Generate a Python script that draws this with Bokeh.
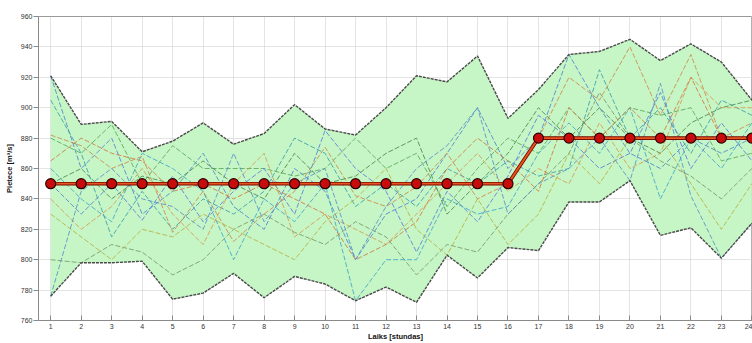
from bokeh.plotting import figure
from bokeh.models import Range1d, FixedTicker
from bokeh.embed import file_html
from bokeh.resources import INLINE

hours = list(range(1, 25))
upper = [921, 889, 891, 871, 878, 890, 876, 883, 902, 886, 882, 900,
         921, 917, 934, 893, 912, 935, 937, 945, 931, 942, 930, 905]
lower = [776, 798, 798, 799, 774, 778, 791, 775, 789, 784, 773, 782,
         772, 803, 788, 808, 806, 838, 838, 852, 816, 821, 801, 824]
planned = [850] * 16 + [880] * 8

s1 = [921, 860, 880, 830, 845, 870, 835, 820, 860, 845, 800, 830, 840, 870, 900, 860, 880, 935, 900, 870, 860, 880, 870, 880]
s2 = [905, 870, 815, 845, 820, 840, 830, 845, 880, 870, 835, 850, 835, 860, 850, 865, 855, 860, 925, 880, 900, 870, 905, 895]
s3 = [882, 875, 860, 868, 818, 845, 812, 830, 845, 874, 842, 835, 848, 870, 840, 850, 880, 920, 905, 940, 895, 935, 880, 890]
s4 = [880, 870, 889, 850, 875, 860, 860, 860, 855, 860, 880, 860, 870, 835, 860, 880, 870, 900, 880, 900, 895, 900, 865, 870]
s5 = [850, 830, 850, 826, 855, 825, 845, 860, 830, 885, 860, 845, 805, 845, 825, 855, 895, 880, 860, 870, 910, 860, 890, 865]
s6 = [840, 820, 835, 860, 830, 810, 850, 870, 815, 830, 820, 810, 830, 850, 870, 845, 860, 850, 890, 860, 870, 920, 900, 900]
s7 = [800, 798, 810, 805, 790, 800, 820, 830, 818, 810, 825, 815, 790, 810, 805, 830, 850, 870, 910, 880, 865, 855, 840, 860]
s8 = [860, 840, 825, 870, 860, 845, 800, 840, 825, 850, 773, 800, 800, 840, 830, 835, 870, 890, 870, 900, 840, 880, 860, 890]
s9 = [830, 815, 800, 820, 815, 830, 820, 810, 800, 825, 840, 860, 820, 803, 840, 810, 830, 870, 850, 880, 880, 850, 820, 850]
s10 = [776, 845, 860, 840, 835, 820, 870, 825, 850, 860, 800, 835, 860, 875, 900, 830, 850, 860, 880, 852, 916, 842, 801, 824]
s11 = [850, 860, 840, 855, 850, 865, 850, 840, 870, 850, 855, 870, 880, 830, 850, 870, 900, 880, 900, 880, 870, 890, 900, 905]
s12 = [865, 880, 870, 865, 845, 850, 840, 850, 840, 830, 800, 810, 825, 860, 880, 865, 845, 900, 880, 900, 880, 920, 880, 880]

scenarios = [s1, s2, s3, s4, s5, s6, s7, s8, s9, s10, s11, s12]
scenario_colors = ["#4f86d0", "#3aa0a8", "#d08a4a", "#5aa85a", "#5b7fd8", "#d89a50",
                   "#7a9a6a", "#40a8c8", "#b8b040", "#5a90c8", "#4a8a4a", "#d07a40"]

y_ticks = list(range(760, 961, 20))

p = figure(width=752, height=343, x_range=Range1d(0.6, 24.02), y_range=Range1d(760, 960),
           output_backend="svg", toolbar_location=None,
           min_border_left=38, min_border_right=0, min_border_top=16, min_border_bottom=23)
p.background_fill_color = "white"
p.border_fill_color = "white"
p.outline_line_color = "#9a9a9a"

p.varea(x=hours, y1=lower, y2=upper, fill_color="#c6f5c6")

for s, c in zip(scenarios, scenario_colors):
    p.line(hours, s, line_color=c, line_width=1, line_dash="5 2", line_alpha=0.85)

p.line(hours, upper, line_color="#4a4a4a", line_width=1.4, line_dash="3 1")
p.line(hours, lower, line_color="#4a4a4a", line_width=1.4, line_dash="3 1")

p.line(hours, planned, line_color="#7a0a00", line_width=3.6)
p.line(hours, planned, line_color="#e8541e", line_width=1.8)
p.scatter(hours, planned, size=10, fill_color="#c80c0c", line_color="#2a0000", line_width=1.2)

p.xaxis.ticker = FixedTicker(ticks=hours)
p.yaxis.ticker = FixedTicker(ticks=y_ticks)

for ax in (p.xaxis[0], p.yaxis[0]):
    ax.axis_line_color = "#8a8a8a"
    ax.major_tick_line_color = "#8a8a8a"
    ax.minor_tick_line_color = None
    ax.major_label_text_font = "Liberation Sans"
    ax.major_label_text_font_size = "7px"
    ax.major_label_text_color = "#333333"
    ax.axis_label_text_font = "Liberation Sans"
    ax.axis_label_text_font_style = "bold"
    ax.axis_label_text_font_size = "7.5px"
    ax.axis_label_text_color = "#111111"

p.xaxis.major_tick_in = 5
p.xaxis.major_tick_out = 0
p.xaxis.major_label_standoff = 3
p.xaxis.axis_label = "Laiks [stundas]"
p.xaxis.axis_label_standoff = 0

p.yaxis.major_tick_in = 0
p.yaxis.major_tick_out = 5
p.yaxis.major_label_standoff = 1
p.yaxis.axis_label = "Pietece [m³/s]"
p.yaxis.axis_label_standoff = 4

p.xgrid.grid_line_color = "#c8c8c8"
p.xgrid.grid_line_dash = "1 1"
p.ygrid.grid_line_color = "#c8c8c8"
p.ygrid.grid_line_dash = "1 1"

open("out.html", "w").write(file_html(p, INLINE))
